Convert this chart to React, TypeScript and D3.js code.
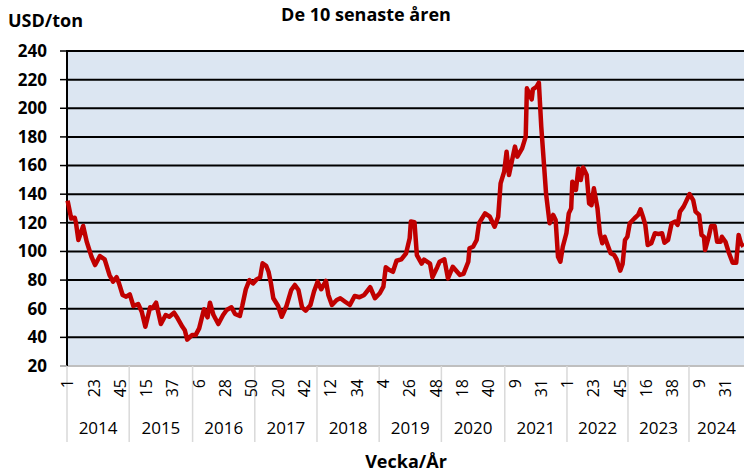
import React, { useEffect, useRef } from 'react';
import * as d3 from 'd3';

// år och antal veckor per år i diagrammet
const years = [2014, 2015, 2016, 2017, 2018, 2019, 2020, 2021, 2022, 2023, 2024];
const weeksPerYear = [52, 53, 52, 52, 52, 52, 53, 52, 51, 51, 46];
const tickStep = 22;
const yTicks = [20, 40, 60, 80, 100, 120, 140, 160, 180, 200, 220, 240];

// [vecka, USD/ton]
const p2014 = [[1, 135.5], [4, 123], [7, 123.5], [8, 120], [10, 108], [14, 117.8], [17, 106.8], [21, 96.3], [24, 90.5], [28, 96.8], [32, 94.5], [36, 83.6], [39, 78.9], [42, 82], [44, 77.7], [47, 69.6], [50, 68.4]];
const p2015 = [[1, 70], [4, 61.9], [8, 63.3], [11, 57.9], [14, 47.4], [18, 61], [20, 60.3], [23, 64.2], [27, 49.3], [31, 55.6], [34, 54.4], [38, 57.2], [41, 53.3], [45, 47.4], [47, 45], [49, 38.4], [53, 41.6]];
const p2016 = [[3, 41.6], [6, 46.3], [10, 59.6], [13, 54], [15, 64.2], [18, 55.6], [22, 49.3], [26, 55.6], [29, 59.1], [33, 61], [36, 56.3], [40, 54.9], [42, 61.9], [45, 73.6], [48, 80], [51, 77.7]];
const p2017 = [[2, 80.5], [5, 81.9], [7, 91.7], [10, 90], [12, 85.8], [14, 77.7], [16, 67.3], [20, 61.9], [23, 54.4], [27, 61.9], [31, 73.1], [34, 76.6], [37, 73.1], [40, 61], [43, 58.6], [47, 62.5], [50, 72]];
const p2018 = [[1, 78.9], [4, 73.6], [8, 79.4], [10, 69.6], [13, 62.6], [17, 66.1], [20, 67.3], [24, 64.9], [28, 62.6], [32, 68.9], [36, 68], [40, 69.6], [45, 75], [49, 67.3]];
const p2019 = [[1, 70.8], [4, 75.4], [6, 89], [9, 87], [12, 85.8], [15, 93.5], [19, 94.5], [23, 98.7], [26, 109.2], [27, 121], [30, 120.5], [32, 97.5], [36, 91.5], [38, 94.3], [43, 91.5], [45, 82], [49, 89], [51, 92.8]];
const p2020 = [[3, 94.5], [6, 81.2], [10, 89.3], [16, 83.6], [19, 84.3], [23, 92.8], [24, 102.2], [27, 103.3], [30, 108], [32, 119.7], [37, 126.6], [41, 124.3], [45, 117.3], [48, 124.3], [50, 147.6], [53, 155.7]];
const p2021 = [[2, 169.7], [4, 153.4], [9, 173.2], [11, 166.2], [15, 172], [18, 180.2], [19, 213.9], [21, 210.4], [23, 206.2], [24, 213.2], [27, 215], [29, 217.9], [31, 187.1], [33, 163.9], [35, 140.5], [38, 119.7], [41, 125.5], [43, 122], [45, 96.3], [47, 92.8], [49, 103.3], [52, 112.7]];
const p2022 = [[2, 126.6], [4, 130.1], [5, 148.7], [8, 142.9], [10, 158], [12, 149.9], [14, 158.7], [17, 153.4], [19, 133.6], [21, 132.4], [23, 144.1], [26, 130.1], [28, 112.7], [30, 105.7], [32, 110.3], [35, 103.3], [37, 98.7], [40, 97.5], [42, 94.5], [45, 86.6], [47, 91.2], [49, 108], [51, 110.3]];
const p2023 = [[2, 119.7], [6, 123.2], [9, 125.5], [11, 129.4], [13, 124.3], [15, 118.5], [17, 104.5], [20, 105.7], [23, 112.7], [26, 112.2], [29, 112.7], [31, 106.1], [34, 108], [37, 119.7], [40, 120.8], [42, 118.5], [44, 127.8], [47, 131.3], [49, 134.8]];
const p2024 = [[1, 140.1], [4, 135.9], [6, 127.8], [9, 125.5], [11, 111.5], [13, 110.3], [14, 101], [17, 110.3], [19, 117.8], [22, 117.8], [24, 106.8], [27, 106.8], [28, 110.3], [31, 106.8], [34, 98.7], [37, 92.1], [40, 92.1], [42, 111.5], [44, 105.7], [46, 103.3]];
const prices = [p2014, p2015, p2016, p2017, p2018, p2019, p2020, p2021, p2022, p2023, p2024];

const font = "'Open Sans', sans-serif";

const App = () => {
  const ref = useRef<SVGSVGElement>(null);

  useEffect(() => {
    const svg = d3.select(ref.current);
    svg.selectAll('*').remove();

    const left = 67, right = 744, top = 51, bottom = 366;

    // kategorier: en per vecka
    const cats: string[] = [];
    const weekOf: number[] = [];
    years.forEach((yr, k) => {
      for (let w = 1; w <= weeksPerYear[k]; w++) {
        cats.push(`${yr}-${w}`);
        weekOf.push(w);
      }
    });

    const x = d3.scaleBand<string>().domain(cats).range([left, right]);
    const xc = (c: string) => (x(c) as number) + x.bandwidth() / 2;
    const y = d3.scaleLinear().domain([20, 240]).range([bottom, top]);

    // bakgrund
    svg.append('rect')
      .attr('x', left).attr('y', top)
      .attr('width', right - left).attr('height', bottom - top)
      .attr('fill', '#dce6f2');

    // stödlinjer
    svg.append('g').selectAll('line')
      .data(yTicks.filter(t => t > 20))
      .join('line')
      .attr('x1', left).attr('x2', right)
      .attr('y1', d => y(d)).attr('y2', d => y(d))
      .attr('stroke', '#000').attr('stroke-width', 2);

    // x-axel
    svg.append('line')
      .attr('x1', left).attr('x2', right)
      .attr('y1', bottom).attr('y2', bottom)
      .attr('stroke', '#bfbfbf').attr('stroke-width', 2);

    // y-axel
    svg.append('line')
      .attr('x1', left).attr('x2', left)
      .attr('y1', top - 1).attr('y2', bottom)
      .attr('stroke', '#000').attr('stroke-width', 2);

    svg.append('g').selectAll('line')
      .data(yTicks)
      .join('line')
      .attr('x1', 60).attr('x2', left)
      .attr('y1', d => y(d)).attr('y2', d => y(d))
      .attr('stroke', d => (d === 20 ? '#999' : '#000')).attr('stroke-width', 1.5);

    svg.append('g').selectAll('text')
      .data(yTicks)
      .join('text')
      .attr('x', 47).attr('y', d => y(d))
      .attr('dy', '0.35em')
      .attr('text-anchor', 'end')
      .attr('font-family', font).attr('font-weight', 'bold').attr('font-size', 17)
      .text(d => d);

    // årsavdelare
    let idx = 0;
    const bounds: number[] = [];
    weeksPerYear.forEach(n => { bounds.push(idx); idx += n; });
    svg.append('g').selectAll('line')
      .data(bounds)
      .join('line')
      .attr('x1', d => x(cats[d]) as number).attr('x2', d => x(cats[d]) as number)
      .attr('y1', bottom).attr('y2', 442)
      .attr('stroke', '#d9d9d9').attr('stroke-width', 1.5);

    svg.append('g').selectAll('text')
      .data(years)
      .join('text')
      .attr('x', (d, k) => {
        const a = x(cats[bounds[k]]) as number;
        const b = k + 1 < bounds.length ? (x(cats[bounds[k + 1]]) as number) : right;
        return (a + b) / 2;
      })
      .attr('y', 428)
      .attr('dy', '0.35em')
      .attr('text-anchor', 'middle')
      .attr('font-family', font).attr('font-size', 17)
      .text(d => d);

    // veckoetiketter
    const tickIdx = d3.range(0, cats.length, tickStep);
    svg.append('g').selectAll('text')
      .data(tickIdx)
      .join('text')
      .attr('transform', d => `translate(${xc(cats[d])},379) rotate(-90)`)
      .attr('dy', '0.35em')
      .attr('text-anchor', 'end')
      .attr('font-family', font).attr('font-size', 16)
      .text(d => weekOf[d]);

    // prislinje
    const pts: [string, number][] = [];
    prices.forEach((arr, k) => {
      arr.forEach(([w, v]) => pts.push([`${years[k]}-${w}`, v]));
    });
    const line = d3.line<[string, number]>()
      .x(d => xc(d[0]))
      .y(d => y(d[1]));

    svg.append('path')
      .datum(pts)
      .attr('fill', 'none')
      .attr('stroke', '#c00000')
      .attr('stroke-width', 4.5)
      .attr('stroke-linejoin', 'round')
      .attr('d', line);

    // titlar
    svg.append('text')
      .attr('x', 366).attr('y', 15).attr('dy', '0.35em')
      .attr('text-anchor', 'middle')
      .attr('font-family', font).attr('font-weight', 'bold').attr('font-size', 18)
      .text('De 10 senaste åren');

    svg.append('text')
      .attr('x', 8).attr('y', 21).attr('dy', '0.35em')
      .attr('font-family', font).attr('font-weight', 'bold').attr('font-size', 18)
      .text('USD/ton');

    svg.append('text')
      .attr('x', 406).attr('y', 462).attr('dy', '0.35em')
      .attr('text-anchor', 'middle')
      .attr('font-family', font).attr('font-weight', 'bold').attr('font-size', 18)
      .text('Vecka/År');
  }, []);

  return (
    <svg ref={ref} width={744} height={476} style={{ position: 'absolute', left: 0, top: 0, background: '#fff' }}></svg>
  );
};

export default App;
